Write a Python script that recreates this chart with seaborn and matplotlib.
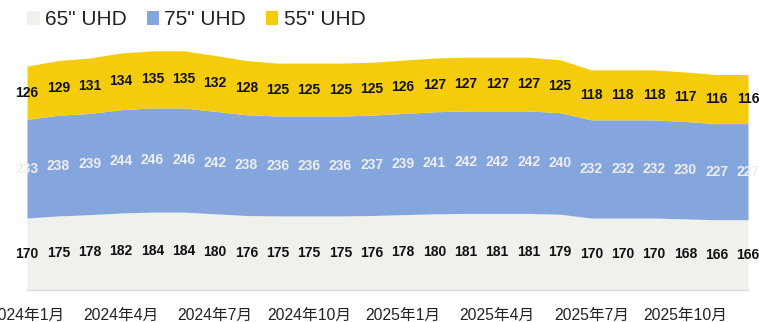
import matplotlib
matplotlib.use("Agg")
import matplotlib.pyplot as plt
import seaborn as sns
import numpy as np

months = [f"{y}年{m}月" for y in (2024, 2025) for m in range(1, 13)]
uhd65 = [170, 175, 178, 182, 184, 184, 180, 176, 175, 175, 175, 176,
         178, 180, 181, 181, 181, 179, 170, 170, 170, 168, 166, 166]
uhd75 = [233, 238, 239, 244, 246, 246, 242, 238, 236, 236, 236, 237,
         239, 241, 242, 242, 242, 240, 232, 232, 232, 230, 227, 227]
uhd55 = [126, 129, 131, 134, 135, 135, 132, 128, 125, 125, 125, 125,
         126, 127, 127, 127, 127, 125, 118, 118, 118, 117, 116, 116]
series_names = ['65" UHD', '75" UHD', '55" UHD']
colors = ["#f0f0ec", "#84a6dc", "#f4cc0c"]
label_colors = ["#111111", "#eeeeee", "#111111"]

sns.set_theme(style="white")
plt.rcParams["font.family"] = ["Liberation Sans", "Noto Sans CJK SC", "DejaVu Sans"]

fig = plt.figure(figsize=(7.59, 3.22), dpi=100)
ax = fig.add_axes([27 / 759, 1 - 290 / 322, (748 - 27) / 759, (290 - 36) / 322])

x = np.arange(len(months))
data = [np.array(uhd65), np.array(uhd75), np.array(uhd55)]
ax.stackplot(x, *data, colors=colors, labels=series_names, linewidth=0)

base = np.zeros(len(x))
for vals, lc in zip(data, label_colors):
    mids = base + vals / 2
    for xi, yi, v in zip(x, mids, vals):
        ax.text(xi, yi, str(v), ha="center", va="center", fontsize=10,
                fontweight="bold", color=lc, clip_on=False)
    base = base + vals

ax.set_xlim(0, len(x) - 1)
ax.set_ylim(0, 600)
ax.set_yticks([])
ax.set_xticks(x[::3])
ax.set_xticklabels(months[::3], fontsize=11.3, color="#222222")
ax.tick_params(axis="x", length=0, pad=13)
for s in ["top", "left", "right"]:
    ax.spines[s].set_visible(False)
ax.spines["bottom"].set_color("#dddddd")
ax.spines["bottom"].set_linewidth(1)
ax.set_facecolor("none")
ax.grid(False)

leg = fig.legend(loc="upper left", bbox_to_anchor=(17 / 759, 1.0), ncol=3,
                 frameon=False, fontsize=15, handlelength=0.6, handleheight=0.6,
                 handletextpad=0.25, columnspacing=0.95, borderaxespad=0.1)
for t in leg.get_texts():
    t.set_color("#222222")

fig.savefig("out.png", dpi=100)
